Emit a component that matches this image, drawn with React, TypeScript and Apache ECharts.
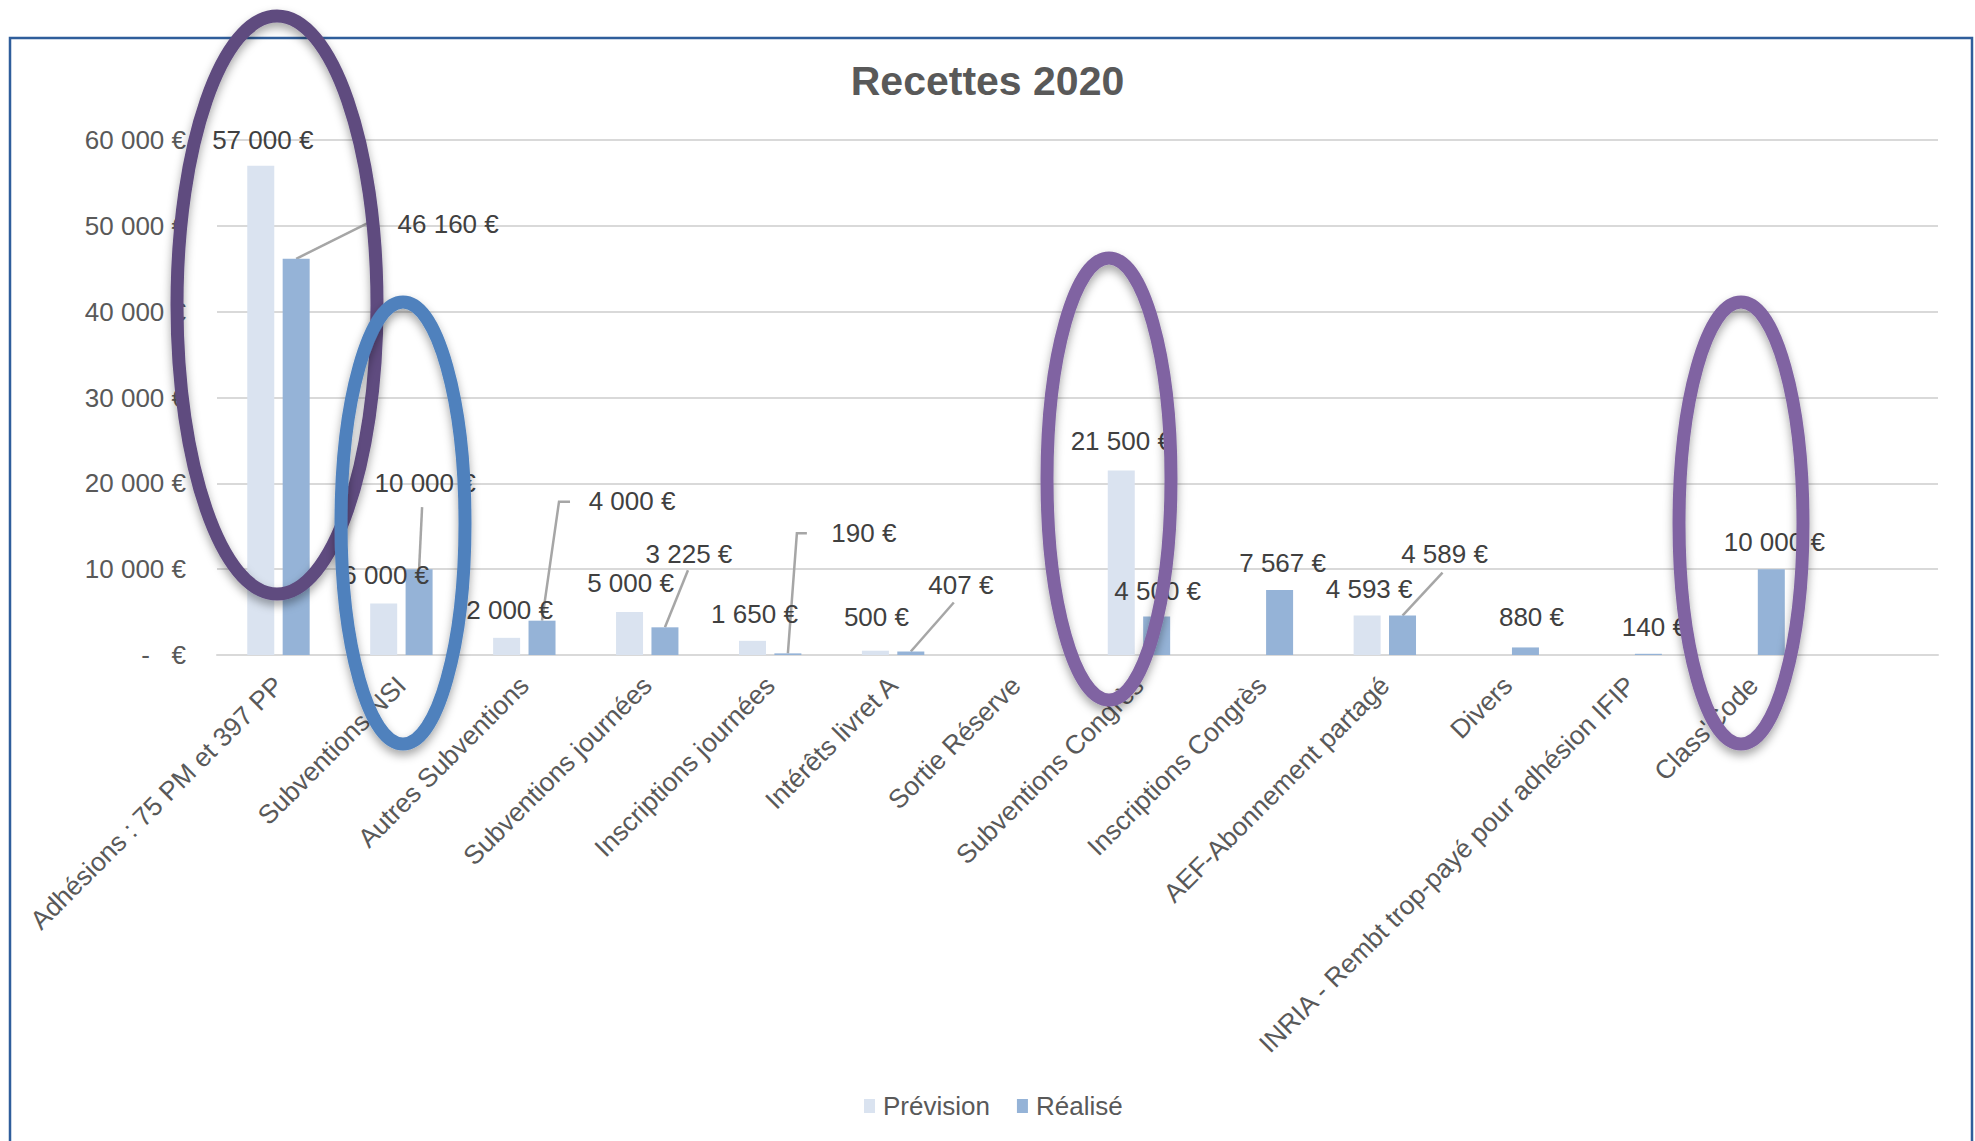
import React, { useEffect, useRef } from "react";
import * as echarts from "echarts";

const categories = [
  "Adhésions : 75 PM et 397 PP",
  "Subventions NSI",
  "Autres Subventions",
  "Subventions journées",
  "Inscriptions journées",
  "Intérêts livret A",
  "Sortie Réserve",
  "Subventions Congrès",
  "Inscriptions Congrès",
  "AEF-Abonnement partagé",
  "Divers",
  "INRIA - Rembt trop-payé pour adhésion IFIP",
  "Class'Code",
  "",
];
const seriesNames = ["Prévision", "Réalisé"];
const prevision: (number | null)[] = [57000, 6000, 2000, 5000, 1650, 500, null, 21500, null, 4593, null, null, null, null];
const realise: (number | null)[] = [46160, 10000, 4000, 3225, 190, 407, null, 4500, 7567, 4589, 880, 140, 10000, null];
const yMin = 0;
const yMax = 60000;
const yStep = 10000;

// layout only (pixel nudges of labels, leader lines, annotations)
const prevLabelOffsets: Record<number, number[]> = {
  0: [2, 1], 1: [2, -2], 2: [3, -1], 3: [1, -2], 4: [2, 0], 5: [1, -7], 7: [0, -2], 9: [2, 0],
};
const realLabelOffsets: Record<number, number[]> = {
  0: [152, -8], 1: [6, -59], 2: [90, -93], 3: [24, -46], 4: [76, -93], 5: [50, -40],
  7: [1, 2], 8: [3, 0], 9: [42, -35], 10: [6, -3], 11: [6, 0], 12: [3, 0],
};
const leaderLines = [
  { cat: 0, pts: [[0, 0], [72, -36]] },
  { cat: 1, pts: [[0, 0], [3, -62]] },
  { cat: 2, pts: [[0, 0], [17, -119], [28, -119]] },
  { cat: 3, pts: [[0, 0], [23, -57]] },
  { cat: 4, pts: [[0, 0], [9, -120], [19, -120]] },
  { cat: 5, pts: [[0, 0], [43, -49]] },
  { cat: 9, pts: [[0, 0], [40, -43]] },
];
const BAR_W = 27;
const BAR_GAP_PX = 8.4;
const HALF_SHIFT = (BAR_W + BAR_GAP_PX) / 2;

const FONT = "'Liberation Sans', Arial, Helvetica, sans-serif";

function fmtEuro(v: number): string {
  const s = Math.round(v).toString().replace(/\B(?=(\d{3})+(?!\d))/g, " ");
  return s + " €";
}

function buildData(vals: (number | null)[], offsets: Record<number, number[]>) {
  return vals.map((v, i) => {
    if (v === null) return null;
    const off = offsets[i];
    return off ? { value: v, label: { offset: off } } : { value: v };
  });
}

export default function App() {
  const ref = useRef<HTMLDivElement>(null);
  useEffect(() => {
    document.body.style.margin = "0";
    if (!ref.current) return;
    const chart = echarts.init(ref.current, undefined, { renderer: "svg" });
    const labelStyle = {
      show: true,
      position: "top" as const,
      distance: 14,
      fontSize: 26,
      color: "#404040",
      fontFamily: FONT,
      formatter: (p: any) => fmtEuro(p.value),
    };
    const option: any = {
      animation: false,
      backgroundColor: "#ffffff",
      textStyle: { fontFamily: FONT },
      title: {
        text: "Recettes 2020",
        left: "center",
        top: 60,
        padding: 0,
        textStyle: { fontSize: 41, fontWeight: "bold", color: "#595959", fontFamily: FONT },
      },
      legend: {
        data: seriesNames,
        top: 1093,
        left: 864,
        padding: 0,
        icon: "rect",
        itemWidth: 11,
        itemHeight: 14,
        itemGap: 27,
        textStyle: { fontSize: 26, color: "#595959", fontFamily: FONT, padding: [0, 0, 0, 3] },
      },
      grid: { left: 217, right: 37, top: 140, bottom: 486, containLabel: false },
      xAxis: {
        type: "category",
        data: categories,
        axisTick: { show: false },
        axisLine: { lineStyle: { color: "#d9d9d9", width: 2 } },
        axisLabel: {
          interval: 0,
          rotate: 45,
          fontSize: 26.4,
          color: "#595959",
          fontFamily: FONT,
          margin: 26,
          padding: [25, 0, 0, 0],
        },
      },
      yAxis: {
        type: "value",
        min: yMin,
        max: yMax,
        interval: yStep,
        axisLine: { show: false },
        axisTick: { show: false },
        splitLine: { lineStyle: { color: "#d9d9d9", width: 2 } },
        axisLabel: {
          fontSize: 26,
          color: "#595959",
          fontFamily: FONT,
          margin: 31,
          formatter: (v: number) => (v === 0 ? "-\u00a0\u00a0\u00a0€" : fmtEuro(v)),
        },
      },
      series: [
        {
          name: seriesNames[0],
          type: "bar",
          data: buildData(prevision, prevLabelOffsets),
          barWidth: BAR_W,
          barGap: `${(BAR_GAP_PX / BAR_W) * 100}%`,
          itemStyle: { color: "#DAE3F0" },
          label: labelStyle,
          z: 3,
        },
        {
          name: seriesNames[1],
          type: "bar",
          data: buildData(realise, realLabelOffsets),
          barWidth: BAR_W,
          barGap: `${(BAR_GAP_PX / BAR_W) * 100}%`,
          itemStyle: { color: "#95B3D7" },
          label: labelStyle,
          z: 3,
        },
        {
          name: "leaders",
          type: "custom",
          silent: true,
          z: 2,
          data: leaderLines.map((l) => [l.cat, realise[l.cat]]),
          renderItem: (params: any, api: any) => {
            const l = leaderLines[params.dataIndex];
            const p = api.coord([api.value(0), api.value(1)]);
            const x0 = p[0] + HALF_SHIFT;
            const y0 = p[1];
            return {
              type: "polyline",
              shape: { points: l.pts.map(([dx, dy]) => [x0 + dx, y0 + dy]) },
              style: { stroke: "#a6a6a6", lineWidth: 2.5, fill: "none" },
            };
          },
        },
      ],
      graphic: [
        {
          type: "rect",
          silent: true,
          z: 0,
          shape: { x: 10, y: 38, width: 1962, height: 1200 },
          style: { fill: "none", stroke: "#2F5E9B", lineWidth: 2.5 },
        },
        {
          type: "ellipse",
          silent: true,
          z: 100,
          shape: { cx: 277, cy: 305, rx: 100, ry: 289 },
          style: { fill: "none", stroke: "#5F4B7F", lineWidth: 13, shadowBlur: 10, shadowColor: "rgba(0,0,0,0.35)", shadowOffsetY: 5 },
        },
        {
          type: "ellipse",
          silent: true,
          z: 100,
          shape: { cx: 403, cy: 523, rx: 62, ry: 221 },
          style: { fill: "none", stroke: "#4F81BD", lineWidth: 13, shadowBlur: 10, shadowColor: "rgba(0,0,0,0.35)", shadowOffsetY: 5 },
        },
        {
          type: "ellipse",
          silent: true,
          z: 100,
          shape: { cx: 1109, cy: 479, rx: 62, ry: 221 },
          style: { fill: "none", stroke: "#8064A2", lineWidth: 13, shadowBlur: 10, shadowColor: "rgba(0,0,0,0.35)", shadowOffsetY: 5 },
        },
        {
          type: "ellipse",
          silent: true,
          z: 100,
          shape: { cx: 1741, cy: 523, rx: 62, ry: 221 },
          style: { fill: "none", stroke: "#8064A2", lineWidth: 13, shadowBlur: 10, shadowColor: "rgba(0,0,0,0.35)", shadowOffsetY: 5 },
        },
      ],
    };
    chart.setOption(option);
    return () => {
      chart.dispose();
    };
  }, []);
  return <div ref={ref} style={{ width: 1975, height: 1141 }} />;
}
